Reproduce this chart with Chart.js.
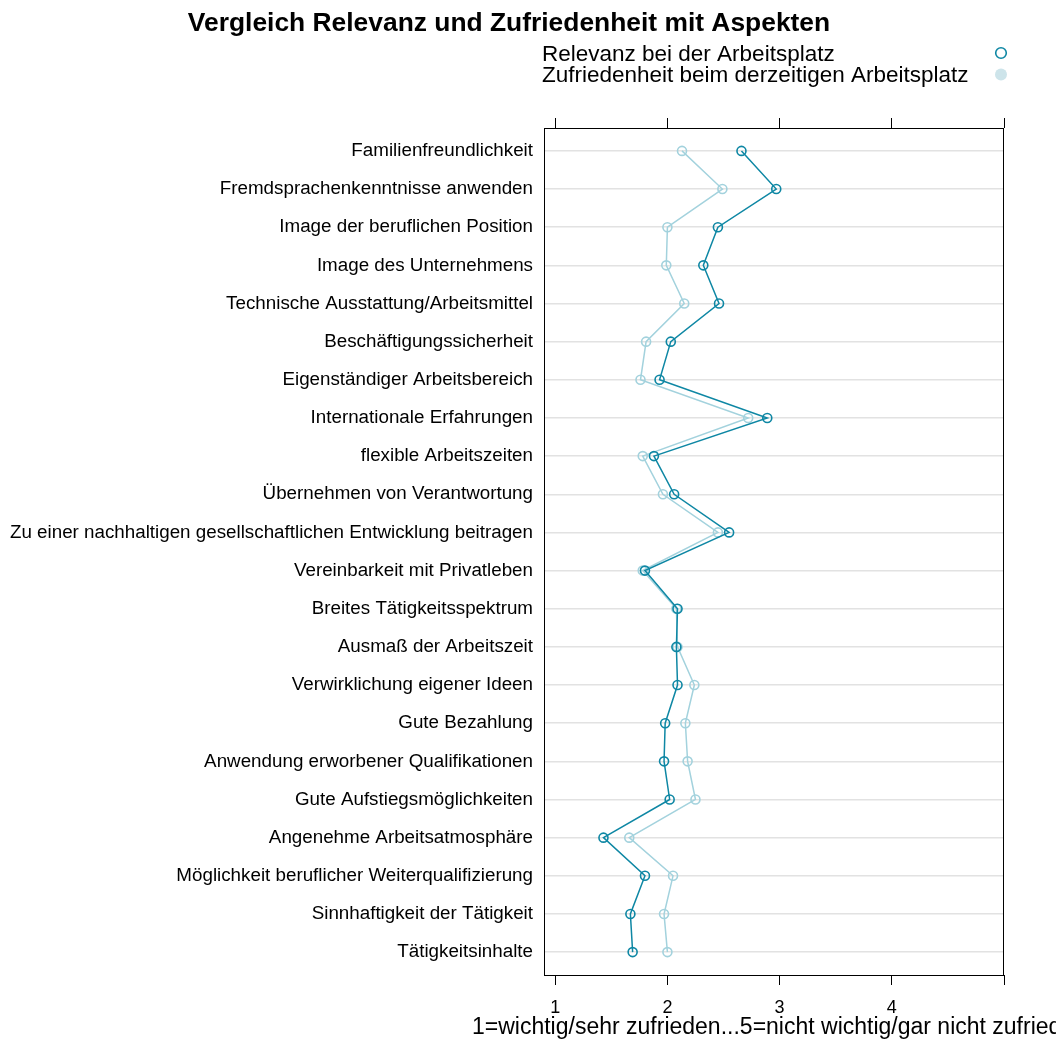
<!DOCTYPE html>
<html>
<head>
<meta charset="utf-8">
<script src="https://cdn.jsdelivr.net/npm/chart.js@4.4.1/dist/chart.umd.min.js"></script>
<style>
  html, body { margin: 0; padding: 0; background: #fff; }
  #wrap { width: 1056px; height: 1055px; }
</style>
</head>
<body>
<div id="wrap"><canvas id="chart" width="1056" height="1055"></canvas></div>
<script>
// Aspects, top to bottom as in the dotplot
const aspects = [
    'Familienfreundlichkeit',
    'Fremdsprachenkenntnisse anwenden',
    'Image der beruflichen Position',
    'Image des Unternehmens',
    'Technische Ausstattung/Arbeitsmittel',
    'Beschäftigungssicherheit',
    'Eigenständiger Arbeitsbereich',
    'Internationale Erfahrungen',
    'flexible Arbeitszeiten',
    'Übernehmen von Verantwortung',
    'Zu einer nachhaltigen gesellschaftlichen Entwicklung beitragen',
    'Vereinbarkeit mit Privatleben',
    'Breites Tätigkeitsspektrum',
    'Ausmaß der Arbeitszeit',
    'Verwirklichung eigener Ideen',
    'Gute Bezahlung',
    'Anwendung erworbener Qualifikationen',
    'Gute Aufstiegsmöglichkeiten',
    'Angenehme Arbeitsatmosphäre',
    'Möglichkeit beruflicher Weiterqualifizierung',
    'Sinnhaftigkeit der Tätigkeit',
    'Tätigkeitsinhalte'
];

// Mean scores (1 = wichtig/sehr zufrieden ... 5 = nicht wichtig/gar nicht zufrieden)
const relevanz = [2.66, 2.97, 2.45, 2.32, 2.46, 2.03, 1.93, 2.89, 1.88, 2.06, 2.55,
    1.80, 2.09, 2.08, 2.09, 1.98, 1.97, 2.02, 1.43, 1.80, 1.67, 1.69];
const zufriedenheit = [2.13, 2.49, 2.00, 1.99, 2.15, 1.81, 1.76, 2.72, 1.78, 1.96, 2.45,
    1.78, 2.08, 2.09, 2.24, 2.16, 2.18, 2.25, 1.66, 2.05, 1.97, 2.00];

const xTicks = [1, 2, 3, 4, 5];

const DARK = '#0e87a4';
const LIGHT = '#a3d2dd';
const LIGHT_FILL = '#cde4ea';
const FONT = '"Liberation Sans", Arial, Helvetica, sans-serif';

function toPoints(values) {
    return values.map(function (v, i) { return { x: v, y: i }; });
}

// Box, title, legend and the x axis title, drawn like the lattice original
const decorations = {
    id: 'decorations',
    afterDraw: function (chart) {
        const ctx = chart.ctx;
        const a = chart.chartArea;
        ctx.save();
        ctx.strokeStyle = '#000';
        ctx.lineWidth = 1;
        ctx.strokeRect(Math.round(a.left) + 0.5, Math.round(a.top) + 0.5,
            Math.round(a.right - a.left) - 1, Math.round(a.bottom - a.top));

        ctx.fillStyle = '#000';
        ctx.textBaseline = 'alphabetic';
        ctx.textAlign = 'center';
        ctx.font = 'bold 26.4px ' + FONT;
        ctx.fillText('Vergleich Relevanz und Zufriedenheit mit Aspekten', 509, 31);

        ctx.textAlign = 'left';
        ctx.font = '22.5px ' + FONT;
        ctx.fillText('Relevanz bei der Arbeitsplatz', 542, 61);
        ctx.fillText('Zufriedenheit beim derzeitigen Arbeitsplatz', 542, 82);

        ctx.beginPath();
        ctx.arc(1001, 53, 5.3, 0, Math.PI * 2);
        ctx.strokeStyle = DARK;
        ctx.lineWidth = 1.6;
        ctx.stroke();
        ctx.beginPath();
        ctx.arc(1001, 74.5, 6, 0, Math.PI * 2);
        ctx.fillStyle = LIGHT_FILL;
        ctx.fill();

        ctx.fillStyle = '#000';
        ctx.textAlign = 'left';
        ctx.font = '23px ' + FONT;
        ctx.fillText('1=wichtig/sehr zufrieden...5=nicht wichtig/gar nicht zufrieden', 472, 1034);
        ctx.restore();
    }
};

const xAxisBase = {
    type: 'linear',
    min: 0.9,
    max: 5,
    afterBuildTicks: function (scale) {
        scale.ticks = xTicks.map(function (v) { return { value: v }; });
    },
    grid: {
        drawOnChartArea: false,
        drawTicks: true,
        tickLength: 10,
        color: '#000',
        lineWidth: 1
    },
    border: { display: false }
};

new Chart(document.getElementById('chart'), {
    type: 'line',
    data: {
        datasets: [{
            label: 'Relevanz bei der Arbeitsplatz',
            data: toPoints(relevanz),
            borderColor: DARK,
            backgroundColor: 'rgba(0,0,0,0)',
            pointBorderColor: DARK,
            pointBackgroundColor: 'rgba(0,0,0,0)',
            pointRadius: 4.5,
            pointBorderWidth: 1.6,
            borderWidth: 1.5,
            tension: 0,
            fill: false,
            xAxisID: 'x',
            yAxisID: 'y'
        }, {
            label: 'Zufriedenheit beim derzeitigen Arbeitsplatz',
            data: toPoints(zufriedenheit),
            borderColor: LIGHT,
            backgroundColor: 'rgba(0,0,0,0)',
            pointBorderColor: LIGHT,
            pointBackgroundColor: 'rgba(0,0,0,0)',
            pointRadius: 4.5,
            pointBorderWidth: 1.6,
            borderWidth: 1.5,
            tension: 0,
            fill: false,
            xAxisID: 'x',
            yAxisID: 'y'
        }]
    },
    options: {
        responsive: false,
        animation: false,
        events: [],
        layout: { padding: { left: 0, right: 52, top: 0, bottom: 0 } },
        plugins: {
            legend: { display: false },
            title: { display: false },
            tooltip: { enabled: false }
        },
        scales: {
            x: Object.assign({}, xAxisBase, {
                position: 'bottom',
                afterFit: function (scale) { scale.height = 80; },
                ticks: {
                    padding: 12,
                    color: '#000',
                    font: { family: FONT, size: 18 },
                    callback: function (v) { return v < 5 ? String(v) : ''; }
                }
            }),
            x2: Object.assign({}, xAxisBase, {
                position: 'top',
                afterFit: function (scale) { scale.height = 128; },
                ticks: { display: false }
            }),
            y: {
                type: 'linear',
                min: -0.6,
                max: 21.6,
                reverse: true,
                afterBuildTicks: function (scale) {
                    scale.ticks = aspects.map(function (c, i) { return { value: i }; });
                },
                afterFit: function (scale) { scale.width = 544; },
                grid: {
                    drawTicks: false,
                    color: '#e2e2e2',
                    lineWidth: 1.5
                },
                border: { display: false },
                ticks: {
                    padding: 11,
                    color: '#000',
                    font: { family: FONT, size: 18.8 },
                    callback: function (v) { return aspects[v]; }
                }
            }
        }
    },
    plugins: [decorations]
});
</script>
</body>
</html>
